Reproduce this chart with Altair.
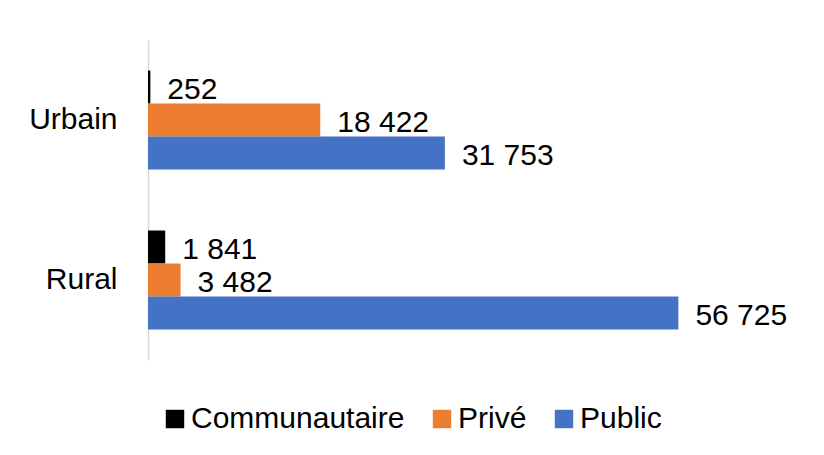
import altair as alt
import pandas as pd

categories = ["Urbain", "Rural"]
series = ["Communautaire", "Privé", "Public"]
urbain_values = [252, 18422, 31753]
rural_values = [1841, 3482, 56725]
colors = ["#000000", "#ED7D31", "#4472C4"]

rows = []
for cat, vals in zip(categories, [urbain_values, rural_values]):
    for s, v in zip(series, vals):
        rows.append({"cat": cat, "serie": s, "value": v,
                     "label": f"{v:,}".replace(",", " ")})
df = pd.DataFrame(rows)

FONT = "Liberation Sans"

y = alt.Y("cat:N", sort=categories, title=None,
          scale=alt.Scale(paddingInner=0.38125, paddingOuter=0.190625),
          axis=alt.Axis(domainColor="#d9d9d9", domainWidth=1.5, ticks=False,
                        labelFontSize=30, labelFont=FONT, labelColor="#000000",
                        labelPadding=31, grid=False))
yoff = alt.YOffset("serie:N", sort=series, scale=alt.Scale(paddingInner=0, paddingOuter=0))
x = alt.X("value:Q", scale=alt.Scale(domain=[0, 60000]), axis=None)

bars = alt.Chart(df).mark_bar(size=33).encode(
    x=x, y=y, yOffset=yoff,
    color=alt.Color("serie:N", sort=series,
                    scale=alt.Scale(domain=series, range=colors),
                    legend=alt.Legend(title=None, orient="none", direction="horizontal",
                                      legendX=12, legendY=364, padding=0,
                                      symbolType="square", symbolSize=340,
                                      symbolStrokeWidth=0, labelFontSize=30,
                                      labelFont=FONT, labelColor="#000000",
                                      labelLimit=400,
                                      labelOffset=1, columnPadding=22)),
)

labels = alt.Chart(df).mark_text(align="left", baseline="middle", dx=17, dy=3,
                                 fontSize=30, font=FONT, color="#000000").encode(
    x=x, y=y, yOffset=yoff, text="label:N"
)

chart = alt.layer(bars, labels).properties(
    width=561, height=320,
    autosize=alt.AutoSizeParams(type="none"),
    padding={"left": 140, "top": 32, "right": 100, "bottom": 80},
    background="white",
).configure_view(stroke=None, strokeWidth=0)

chart.save("out.html", embed_options={"renderer": "svg", "actions": False})
